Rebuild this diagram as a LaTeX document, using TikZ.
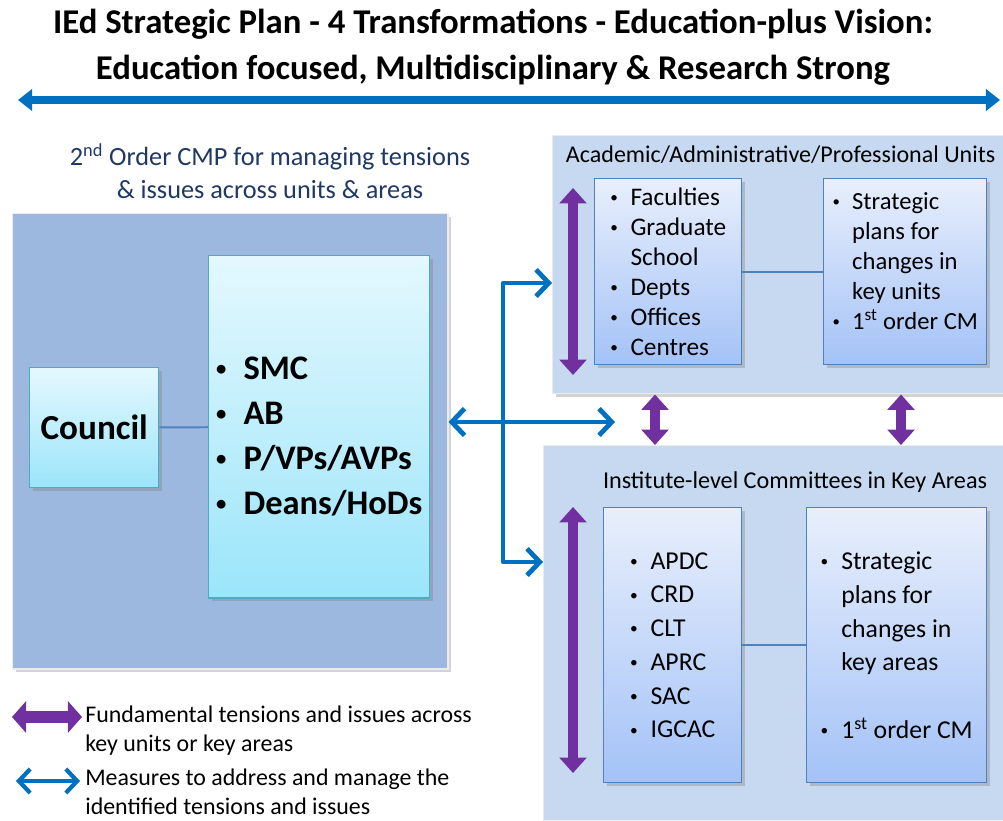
\documentclass[tikz,border=0pt]{standalone}
\usepackage{fontspec}
\setmainfont{Carlito}
\usepackage{graphicx}
\usepackage{tikz}
\usetikzlibrary{
    arrows.meta,
    shadows
}
\definecolor{cmpfill}{HTML}{9DB8DF}
\definecolor{tealedge}{HTML}{4BACC6}
\definecolor{cyantop}{HTML}{E4F8FE}
\definecolor{cyanbot}{HTML}{9BE5FA}
\definecolor{unitfill}{HTML}{C6D9F1}
\definecolor{bluetop}{HTML}{E8EFFC}
\definecolor{bluebot}{HTML}{A4C2F7}
\definecolor{blueedge}{HTML}{4F81BD}
\definecolor{tensionpurple}{HTML}{7030A0}
\definecolor{measureblue}{HTML}{0070C0}
\definecolor{navytext}{HTML}{1F3864}
\newcommand{\itm}[1]{\raisebox{0.22ex}{\scalebox{0.6}{\textbullet}}\hspace{0.5em}#1}
\newcommand{\cnt}[1]{\hphantom{\scalebox{0.6}{\textbullet}\hspace{0.5em}}#1}
\tikzset{
    boxshadow/.style={drop shadow={opacity=0.35, shadow xshift=2pt, shadow yshift=-2pt}},
    panel/.style={draw=white!85!gray, line width=1pt, anchor=north west, inner sep=0pt, boxshadow},
    cyanbox/.style={draw=tealedge, line width=1pt, top color=cyantop, bottom color=cyanbot,
        anchor=north west, inner sep=0pt, boxshadow},
    bluebox/.style={draw=blueedge, line width=1pt, top color=bluetop, bottom color=bluebot,
        anchor=north west, inner sep=0pt, align=left, boxshadow},
    link/.style={blueedge, line width=1.4pt},
    strain/.style={tensionpurple, line width=7pt,
        {Triangle[width=19pt,length=11pt]}-{Triangle[width=19pt,length=11pt]}},
    measure/.style={measureblue, line width=3.4pt, line cap=round, line join=round}
}

\begin{document}
\begin{tikzpicture}[x=0.025cm, y=-0.025cm]
    \useasboundingbox (0,0) rectangle (1003,820);
    % title and vision arrow
    \draw (493,47) node[align=center, font=\fontsize{24.7}{32.7}\selectfont\bfseries](title)
        {IEd Strategic Plan - 4 Transformations - Education-plus Vision:\\
         Education focused, Multidisciplinary \& Research Strong};
    \coordinate (visionL) at (18,100);
    \coordinate (visionR) at (1000,100);
    \draw[measureblue, line width=5pt, {Triangle[width=15pt,length=10pt]}-{Triangle[width=15pt,length=10pt]}]
        (visionL) -- (visionR);

    % 2nd order CMP
    \draw (270,171) node[align=center, text=navytext, font=\fontsize{18.7}{23.5}\selectfont](cmptitle)
        {2\textsuperscript{nd} Order CMP for managing tensions\\ \& issues across units \& areas};
    \draw (12,213) node[panel, fill=cmpfill, minimum width=10.875cm, minimum height=11.375cm](cmp){};
    \draw (29,367) node[cyanbox, minimum width=3.225cm, minimum height=3cm,
        font=\fontsize{25}{30}\selectfont\bfseries](council){Council};
    \draw (208,255) node[cyanbox, minimum width=5.525cm, minimum height=8.55cm, align=left,
        font=\fontsize{24.5}{32}\selectfont\bfseries](leaders)
        {\rule{0pt}{30pt}\itm{SMC}\\ \itm{AB}\\ \itm{P/VPs/AVPs}\\ \itm{Deans/HoDs}};
    \draw[link] (council) -- (leaders);

    % units
    \draw (552,135) node[panel, fill=unitfill, minimum width=11.275cm, minimum height=6.45cm](units){};
    \draw (561,155) node[anchor=west, font=\fontsize{17.1}{19}\selectfont](unitstitle)
        {Academic/Administrative/Professional Units};
    \draw (594,178) node[bluebox, minimum width=3.675cm, minimum height=4.65cm,
        font=\fontsize{18}{21.3}\selectfont](unitlist)
        {\itm{Faculties}\\ \itm{Graduate}\\ \cnt{School}\\ \itm{Depts}\\ \itm{Offices}\\ \itm{Centres}};
    \draw (823,178) node[bluebox, minimum width=4.075cm, minimum height=4.65cm,
        font=\fontsize{17.5}{21.3}\selectfont](unitplan)
        {\itm{Strategic}\\ \cnt{plans for}\\ \cnt{changes in}\\ \cnt{key units}\\
         \itm{1\textsuperscript{st} order CM}\\[-6pt]};
    \draw[link] (unitlist) -- (unitplan);
    \draw[strain] (573,188) -- (573,375);

    % areas
    \draw (543,445) node[panel, fill=unitfill, minimum width=11.5cm, minimum height=9.375cm](areas){};
    \draw (795,482) node[font=\fontsize{17.2}{19}\selectfont](areastitle)
        {Institute-level Committees in Key Areas};
    \draw (603,507) node[bluebox, minimum width=3.45cm, minimum height=6.875cm,
        font=\fontsize{18.3}{24}\selectfont](arealist)
        {\itm{APDC}\\ \itm{CRD}\\ \itm{CLT}\\ \itm{APRC}\\ \itm{SAC}\\ \itm{IGCAC}};
    \draw (806,507) node[bluebox, minimum width=4.5cm, minimum height=6.875cm,
        font=\fontsize{18.3}{24}\selectfont](areaplan)
        {\itm{Strategic}\\ \cnt{plans for}\\ \cnt{changes in}\\ \cnt{key areas}\\[24pt]
         \itm{1\textsuperscript{st} order CM}};
    \draw[link] (arealist) -- (areaplan);
    \draw[strain] (573,507) -- (573,773);

    % tensions between units and areas
    \draw[strain] (units.south -| 655,0) -- (areas.north -| 655,0);
    \draw[strain] (units.south -| 901,0) -- (areas.north -| 901,0);

    % measures
    \coordinate (hub) at (503,422);
    \coordinate (gap) at (615,422);
    \draw[measure, {Straight Barb[length=9pt,width=19pt]}-{Straight Barb[length=9pt,width=19pt]}]
        (cmp.east |- hub) -- (gap);
    \draw[measure, {Straight Barb[length=9pt,width=19pt]}-{Straight Barb[length=9pt,width=19pt]}]
        (units.west |- 0,283) -| (hub) |- (areas.west |- 0,562);

    % legend
    \coordinate (tensionL) at (12,717);
    \coordinate (tensionR) at (82,717);
    \draw[tensionpurple, line width=8.5pt, {Triangle[width=22pt,length=10pt]}-{Triangle[width=22pt,length=10pt]}]
        (tensionL) -- (tensionR);
    \draw (85,731) node[anchor=west, align=left, inner xsep=0pt, font=\fontsize{17}{20.5}\selectfont](tensionkey)
        {Fundamental tensions and issues across\\ key units or key areas};
    \coordinate (measureL) at (16,781);
    \coordinate (measureR) at (80,781);
    \draw[measure, line width=3pt, {Straight Barb[length=8pt,width=17pt]}-{Straight Barb[length=8pt,width=17pt]}]
        (measureL) -- (measureR);
    \draw (85,792) node[anchor=west, align=left, inner sep=0pt, font=\fontsize{17}{20.5}\selectfont](measurekey)
        {Measures to address and manage the\\ identified tensions and issues};
\end{tikzpicture}
\end{document}
